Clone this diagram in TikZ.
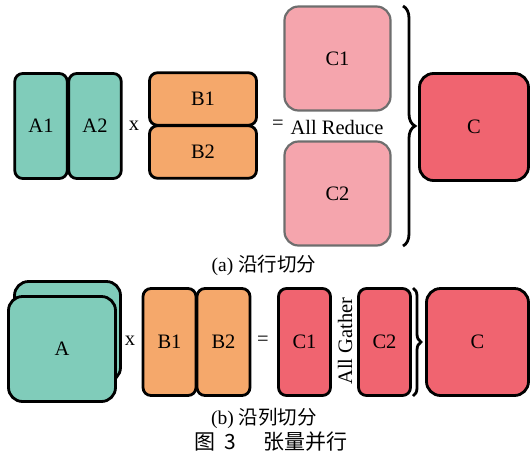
\documentclass[tikz,border=0pt]{standalone}
\usepackage{fontspec}
\setmainfont{Liberation Serif}
\newfontfamily\cjk{Noto Sans CJK SC}
\usetikzlibrary{decorations.pathreplacing}
\definecolor{teal}{RGB}{128,204,186}
\definecolor{orng}{RGB}{245,168,107}
\definecolor{cred}{RGB}{240,100,112}
\definecolor{cpink}{RGB}{245,165,173}
\definecolor{cgray}{RGB}{110,110,110}
\tikzset{
  box/.style={draw=black, line width=2.8pt, rounded corners=8pt, inner sep=0pt, font=\fontsize{20.5}{20.5}\selectfont},
  bigbox/.style={box, rounded corners=14pt},
  lbl/.style={inner sep=0pt, font=\fontsize{20.5}{20.5}\selectfont},
  captxt/.style={inner sep=0pt, font=\fontsize{19.5}{19.5}\selectfont},
  brc/.style={draw=black, line width=2.8pt, decorate},
}
\begin{document}
\begin{tikzpicture}[x=1pt,y=-1pt]
\useasboundingbox (0,0) rectangle (531,459);
% (a)
\node[box, fill=teal, minimum width=52.5pt, minimum height=105pt] (a1) at (41,126) {A1};
\node[box, fill=teal, minimum width=52.5pt, minimum height=105pt] (a2) at (95,126) {A2};
\node[lbl] (x1) at (134,126) {x};
\node[box, fill=orng, minimum width=107pt, minimum height=52.5pt] (b1) at (203,99) {B1};
\node[box, fill=orng, minimum width=107pt, minimum height=52.5pt] (b2) at (203,152) {B2};
\node[lbl] (eq1) at (278,125) {=};
\node[bigbox, draw=cgray, line width=2.2pt, fill=cpink, minimum width=106pt, minimum height=104pt] (c1) at (337.5,58.5) {C1};
\node[bigbox, draw=cgray, line width=2.2pt, fill=cpink, minimum width=106pt, minimum height=104pt] (c2) at (337.5,193.5) {C2};
\node[lbl] (ar) at (337,127) {All Reduce};
\coordinate (bta) at (403,6);
\coordinate (bba) at (403,246);
\draw[brc, decoration={brace, amplitude=12pt}] (bta) -- (bba);
\node[bigbox, fill=cred, minimum width=109pt, minimum height=107pt] (c) at (474,127) {C};
\node[captxt] (capa) at (264,265) {(a) {\cjk 沿行切分}};
% (b)
\node[bigbox, fill=teal, minimum width=106pt, minimum height=100pt] (aback) at (67.5,331.5) {};
\node[bigbox, fill=teal, minimum width=107pt, minimum height=105pt] (a) at (62,349) {A};
\node[lbl] (x2) at (130,341) {x};
\node[box, fill=orng, minimum width=53pt, minimum height=107pt] (bb1) at (169.5,342) {B1};
\node[box, fill=orng, minimum width=53pt, minimum height=107pt] (bb2) at (223.5,342) {B2};
\node[lbl] (eq2) at (263,341) {=};
\node[box, fill=cred, minimum width=52pt, minimum height=107pt] (cc1) at (304.5,342) {C1};
\node[lbl, rotate=90] (ag) at (345,341) {All Gather};
\node[box, fill=cred, minimum width=52pt, minimum height=107pt] (cc2) at (384.5,342) {C2};
\coordinate (btb) at (413,288);
\coordinate (bbb) at (413,396);
\draw[brc, decoration={brace, amplitude=8pt}] (btb) -- (bbb);
\node[bigbox, fill=cred, minimum width=102pt, minimum height=107pt] (cc) at (477.5,342) {C};
\node[captxt] (capb) at (264,418) {(b) {\cjk 沿列切分}};
\node[inner sep=0pt, font=\fontsize{21}{21}\selectfont\cjk] (fig) at (271,442) {图\hspace{0.45em}3\hspace{1.3em}张量并行};
\end{tikzpicture}
\end{document}
